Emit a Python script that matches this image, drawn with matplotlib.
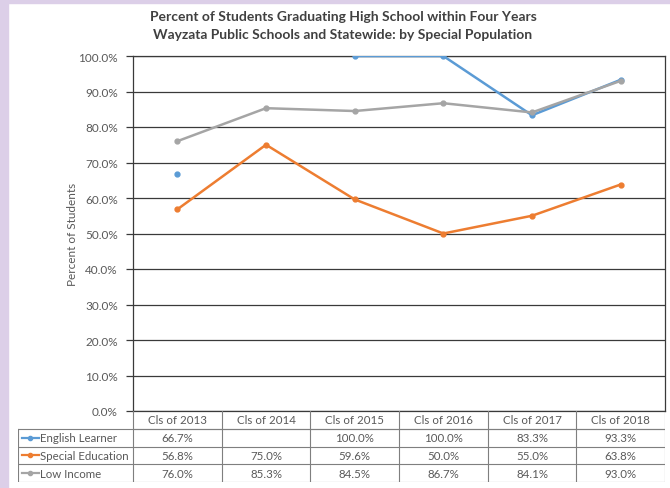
import matplotlib
matplotlib.use('Agg')
import matplotlib.pyplot as plt
import numpy as np

# data
years = ['Cls of 2013', 'Cls of 2014', 'Cls of 2015', 'Cls of 2016', 'Cls of 2017', 'Cls of 2018']
english_learner = [66.7, None, 100.0, 100.0, 83.3, 93.3]
special_ed = [56.8, 75.0, 59.6, 50.0, 55.0, 63.8]
low_income = [76.0, 85.3, 84.5, 86.7, 84.1, 93.0]
series_names = ['English Learner', 'Special Education', 'Low Income']
series_colors = ['#5B9BD5', '#ED7D31', '#A5A5A5']

plt.rcParams['font.family'] = ['Lato', 'DejaVu Sans']
txt_col = '#595959'
grid_col = '#3a3a3a'

fig = plt.figure(figsize=(6.7, 4.89), dpi=100)
fig.patch.set_facecolor('white')

# lavender frame on left/top like the screenshot
fig.add_artist(plt.Rectangle((0, 0), 8 / 670, 1, transform=fig.transFigure, color='#DCCFE8', zorder=0))
fig.add_artist(plt.Rectangle((0, 1 - 4 / 489), 1, 4 / 489, transform=fig.transFigure, color='#DCCFE8', zorder=0))

ax = fig.add_axes([133 / 670, 77 / 489, 532 / 670, 355 / 489])
x = np.arange(len(years))
all_series = [english_learner, special_ed, low_income]

for vals, col in zip(all_series, series_colors):
    y = np.array([np.nan if v is None else v for v in vals])
    ax.plot(x, y, color=col, lw=1.8, marker='o', ms=3.5, zorder=3)

ax.set_xlim(-0.5, len(years) - 0.5)
ax.set_ylim(0, 100)
ax.set_yticks(np.arange(0, 101, 10))
ax.set_yticklabels(['%.1f%%' % v for v in np.arange(0, 101, 10)], color=txt_col, fontsize=8.5)
ax.set_xticks([])
ax.grid(axis='y', color=grid_col, lw=0.9)
ax.tick_params(axis='y', length=5, color=grid_col, width=0.9, pad=6)
for s in ax.spines.values():
    s.set_color(grid_col)
    s.set_linewidth(0.9)
ax.set_ylabel('Percent of Students', color=txt_col, fontsize=8.5, labelpad=0)

fig.text(343 / 670, 1 - 17 / 489, 'Percent of Students Graduating High School within Four Years',
         ha='center', va='center', fontsize=10, fontweight='bold', color='#404040')
fig.text(343 / 670, 1 - 35 / 489, 'Wayzata Public Schools and Statewide: by Special Population',
         ha='center', va='center', fontsize=10, fontweight='bold', color='#404040')

# data table under the chart
label_w = (133 - 18) / (532 / 6)
tab = fig.add_axes([18 / 670, 6 / 489, (665 - 18) / 670, 71 / 489])
tab.set_xlim(-0.5 - label_w, len(years) - 0.5)
tab.set_ylim(0, 4)
tab.axis('off')
lc = '#7f7f7f'
fs = 8.3
# header row
tab.plot([-0.5, len(years) - 0.5], [3, 3], color=lc, lw=0.8)
for i in range(len(years) + 1):
    tab.plot([i - 0.5, i - 0.5], [0, 4], color=lc, lw=0.8)
for i, yr in enumerate(years):
    tab.text(i, 3.5, yr, ha='center', va='center', fontsize=fs, color=txt_col)
# body rows
for r in range(4):
    tab.plot([-0.5 - label_w, len(years) - 0.5], [r, r], color=lc, lw=0.8)
tab.plot([-0.5 - label_w, -0.5 - label_w], [0, 3], color=lc, lw=0.8)
for r, (name, vals, col) in enumerate(zip(series_names, all_series, series_colors)):
    yc = 2.5 - r
    x0 = -0.5 - label_w
    tab.plot([x0 + 0.04, x0 + 0.24], [yc, yc], color=col, lw=1.6)
    tab.plot([x0 + 0.14], [yc], 'o', color=col, ms=3)
    tab.text(x0 + 0.25, yc, name, ha='left', va='center', fontsize=fs, color=txt_col)
    for i, v in enumerate(vals):
        if v is not None:
            tab.text(i, yc, '%.1f%%' % v, ha='center', va='center', fontsize=fs, color=txt_col)

fig.savefig('out.png', dpi=100)
